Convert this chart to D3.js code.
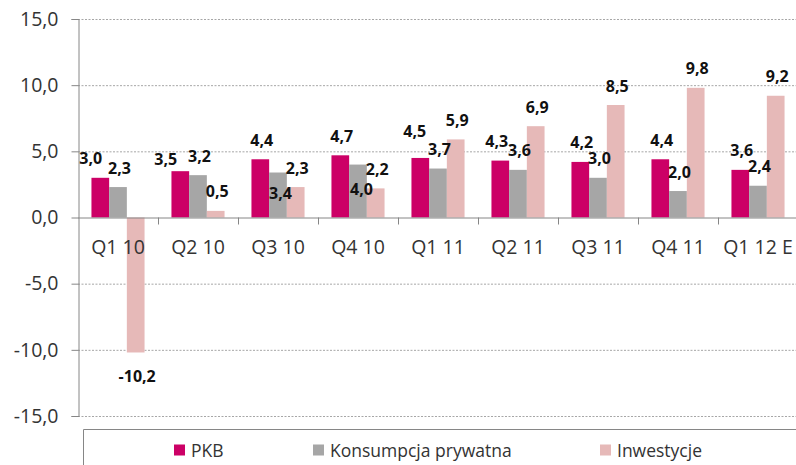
<!DOCTYPE html>
<html>
<head>
<meta charset="utf-8">
<script src="https://cdn.jsdelivr.net/npm/d3@7"></script>
<style>
  body { margin: 0; background: #fff; }
  svg { display: block; font-family: "Open Sans", "Noto Sans", sans-serif; }
</style>
</head>
<body>
<div id="chart"></div>
<script>
var categories = ["Q1 10", "Q2 10", "Q3 10", "Q4 10", "Q1 11", "Q2 11", "Q3 11", "Q4 11", "Q1 12 E"];
var seriesNames = ["PKB", "Konsumpcja prywatna", "Inwestycje"];
var pkb = [3.0, 3.5, 4.4, 4.7, 4.5, 4.3, 4.2, 4.4, 3.6];
var konsumpcja = [2.3, 3.2, 3.4, 4.0, 3.7, 3.6, 3.0, 2.0, 2.4];
var inwestycje = [-10.2, 0.5, 2.3, 2.2, 5.9, 6.9, 8.5, 9.8, 9.2];
var yTicks = [-15, -10, -5, 0, 5, 10, 15];

var colors = ["#cc0066", "#a6a6a6", "#e6b9b8"];

// hand-moved labels in the original (pixels: series, category, dx, dy)
var labelNudge = [
  [0, 0, -11, 0], [0, 1, -16, 7], [0, 4, -7, -7], [0, 5, -5, 0],
  [1, 2, 1, 40], [1, 3, 2, 44]
];

var width = 796, height = 465;
var margin = {top: 19, right: 0, bottom: 49, left: 78};

var svg = d3.select("#chart").append("svg")
  .attr("width", width)
  .attr("height", height);

var values = [pkb, konsumpcja, inwestycje];
var rows = [];
categories.forEach(function(c, i) {
  values.forEach(function(v, s) {
    rows.push({cat: c, ci: i, s: s, value: v[i]});
  });
});

var x0 = d3.scaleBand().domain(categories).range([78, 798]).padding(0);
var x1 = d3.scaleBand().domain(d3.range(3)).range([0, x0.bandwidth()]).paddingInner(0).paddingOuter(0.76);
var y = d3.scaleLinear().domain([-15, 15]).range([416, 19]);

var locale = d3.formatLocale({decimal: ",", thousands: " ", grouping: [3], currency: ["", ""], minus: "-"});
var fmt = locale.format(".1f");

// gridlines
svg.append("g").selectAll("line")
  .data(yTicks.filter(function(t) { return t !== 0; }))
  .enter().append("line")
  .attr("x1", 78).attr("x2", width)
  .attr("y1", function(d) { return y(d) + 0.5; })
  .attr("y2", function(d) { return y(d) + 0.5; })
  .attr("stroke", "#a6a6a6")
  .attr("stroke-dasharray", "2,1.5");

// y axis
var yAxis = svg.append("g")
  .attr("transform", "translate(78.5,0)")
  .call(d3.axisLeft(y).tickValues(yTicks).tickSize(7).tickPadding(13).tickFormat(fmt));
yAxis.select(".domain").attr("stroke", "#868686");
yAxis.selectAll(".tick line").attr("stroke", "#868686");
yAxis.selectAll("text")
  .attr("font-size", 19.5)
  .attr("fill", "#333")
  .attr("font-family", "Open Sans");

// bars
svg.append("g").selectAll("rect")
  .data(rows)
  .enter().append("rect")
  .attr("x", function(d) { return x0(d.cat) + x1(d.s); })
  .attr("width", x1.bandwidth())
  .attr("y", function(d) { return y(Math.max(0, d.value)); })
  .attr("height", function(d) { return Math.abs(y(d.value) - y(0)); })
  .attr("fill", function(d) { return colors[d.s]; });

// zero axis
svg.append("line")
  .attr("x1", 78).attr("x2", width)
  .attr("y1", y(0) + 0.5).attr("y2", y(0) + 0.5)
  .attr("stroke", "#868686");
svg.append("g").selectAll("line")
  .data(categories.slice(1))
  .enter().append("line")
  .attr("x1", function(d) { return Math.round(x0(d)) + 0.5; })
  .attr("x2", function(d) { return Math.round(x0(d)) + 0.5; })
  .attr("y1", y(0)).attr("y2", y(0) + 7)
  .attr("stroke", "#868686");

svg.append("g").selectAll("text")
  .data(categories)
  .enter().append("text")
  .attr("x", function(d) { return x0(d) + x0.bandwidth() / 2; })
  .attr("y", y(0) + 36)
  .attr("text-anchor", "middle")
  .attr("font-size", 19.5)
  .attr("fill", "#333")
  .text(function(d) { return d; });

// data labels
function nudge(d) {
  for (var i = 0; i < labelNudge.length; i++) {
    if (labelNudge[i][0] == d.s && labelNudge[i][1] == d.ci) return labelNudge[i];
  }
  return [0, 0, 0, 0];
}
svg.append("g").selectAll("text")
  .data(rows)
  .enter().append("text")
  .attr("x", function(d) { return x0(d.cat) + x1(d.s) + x1.bandwidth() / 2 + 1.5 + nudge(d)[2]; })
  .attr("y", function(d) {
    var base = d.value >= 0 ? y(d.value) - 19 : y(d.value) + 24;
    return base + 5.5 + nudge(d)[3];
  })
  .attr("text-anchor", "middle")
  .attr("font-size", 16)
  .attr("font-weight", "bold")
  .attr("fill", "#111")
  .text(function(d) { return fmt(d.value); });

// legend
var legend = svg.append("g");
legend.append("path")
  .attr("d", "M83.5," + height + "V429.5H" + width)
  .attr("fill", "none")
  .attr("stroke", "#868686");

var legendX = [174, 313, 600];
var items = legend.selectAll(".item")
  .data(seriesNames)
  .enter().append("g")
  .attr("class", "item")
  .attr("transform", function(d, i) { return "translate(" + legendX[i] + ",450)"; });
items.append("rect")
  .attr("x", 0).attr("y", -5.5)
  .attr("width", 11).attr("height", 11)
  .attr("fill", function(d, i) { return colors[i]; });
items.append("text")
  .attr("x", 17)
  .attr("y", 6.5)
  .attr("font-size", 17.5)
  .attr("fill", "#333")
  .text(function(d) { return d; });
</script>
</body>
</html>
